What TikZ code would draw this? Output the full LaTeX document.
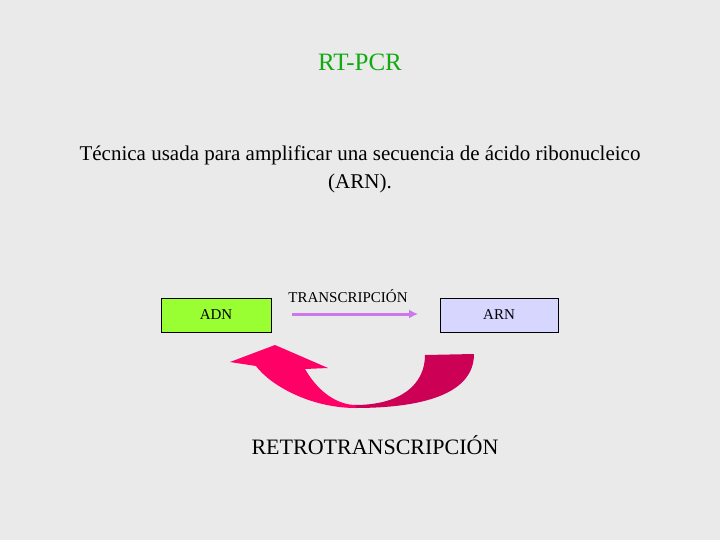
\documentclass[tikz,border=0pt]{standalone}
\usepackage{fontspec}
\usetikzlibrary{arrows.meta}
\setmainfont{Liberation Serif}
\definecolor{bg}{HTML}{EAEAEA}
\definecolor{ttl}{HTML}{11AA11}
\definecolor{adn}{HTML}{99FF33}
\definecolor{arn}{HTML}{D6D6FF}
\definecolor{vio}{HTML}{CC77EE}
\definecolor{pinkA}{HTML}{FF0066}
\definecolor{pinkB}{HTML}{CC0055}
\begin{document}
\begin{tikzpicture}[x=1pt,y=-1pt,
  box/.style={draw=black,line width=0.8pt,minimum width=110pt,minimum height=34pt,inner sep=0pt,font=\fontsize{15}{15}\selectfont}]
\fill[bg] (0,0) rectangle (720,540);
\node[text=ttl,font=\fontsize{25}{25}\selectfont] (title) at (360,62) {RT-PCR};
\node[align=center,font=\fontsize{21}{28}\selectfont] (desc) at (360,169) {Técnica usada para amplificar una secuencia de ácido ribonucleico\\(ARN).};
\node[box,fill=adn] (adn) at (216,315) {ADN};
\node[box,fill=arn,minimum width=118pt] (arn) at (499,315) {ARN};
\node[font=\fontsize{15}{15}\selectfont] (tr) at (348,296) {TRANSCRIPCIÓN};
\coordinate (a1) at (292,314);
\coordinate (a2) at (418,314);
\draw[vio,line width=3pt,-{Latex[length=9pt,width=9pt]}] (a1) -- (a2);
\fill[pinkB] (474,354) .. controls (474,395) and (420,408) .. (355,408)
  -- (355,405) .. controls (400,405) and (425,385) .. (425,355) -- cycle;
\fill[pinkA] (356,408) .. controls (310,408) and (270,385) .. (256,366)
  -- (230,362) -- (275,345) -- (328,368) -- (305,369)
  .. controls (320,395) and (340,405) .. (356,405) -- cycle;
\node[font=\fontsize{22}{22}\selectfont] (rt) at (375,445) {RETROTRANSCRIPCIÓN};
\end{tikzpicture}
\end{document}
